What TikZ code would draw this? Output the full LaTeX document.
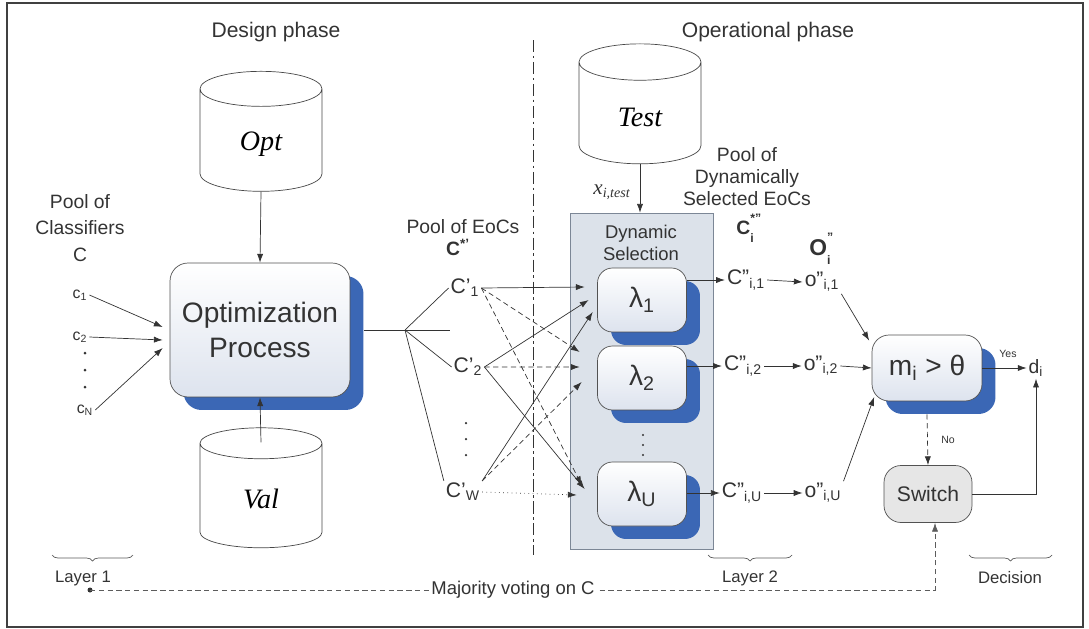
\documentclass[tikz,border=0pt]{standalone}
\usepackage{fontspec}
\setmainfont{Liberation Sans}
\newfontfamily\tnr{Liberation Serif}
\usetikzlibrary{shapes.geometric,shadows,arrows.meta,decorations.pathreplacing}

\definecolor{shblue}{HTML}{3B67B5}
\definecolor{boxfill}{HTML}{DDE3EE}
\definecolor{panelfill}{HTML}{DCE2EA}
\definecolor{panelline}{HTML}{7C8796}
\definecolor{linec}{HTML}{333333}
\definecolor{switchfill}{HTML}{E6E6E6}

\newcommand\supsub[2]{\rlap{\raisebox{0.62em}{\fontsize{7}{8}\selectfont#1}}\raisebox{-0.4em}{\fontsize{7}{8}\selectfont#2}}

\tikzset{
  arr/.style={draw=linec, -{Latex[length=5pt,width=3.5pt]}},
  dsh/.style={dash pattern=on 3pt off 2pt},
  procbox/.style={draw=linec!85, rounded corners=0.36cm, top color=white, bottom color=boxfill,
    drop shadow={shadow xshift=0.27cm, shadow yshift=-0.26cm, fill=shblue, opacity=1}},
  db/.style={cylinder, shape border rotate=90, aspect=0.65, draw=linec!90, fill=white,
    minimum width=2.44cm, minimum height=2.4cm, font=\tnr\itshape\fontsize{16}{18}\selectfont},
  hdr/.style={font=\fontsize{12}{14}\selectfont, text=linec, inner sep=1pt},
  lbl/.style={font=\fontsize{11}{13}\selectfont, text=linec, inner sep=1pt},
  cpl/.style={font=\fontsize{12}{14}\selectfont, text=linec, inner sep=1pt},
  mini/.style={font=\fontsize{6}{7}\selectfont, text=linec, inner sep=1pt},
  layer/.style={font=\fontsize{9.5}{11}\selectfont, text=linec, inner sep=1pt},
  brc/.style={draw=linec!80, decorate, decoration={brace, mirror, amplitude=0.12cm}}
}

\begin{document}
\begin{tikzpicture}[x=0.02cm, y=-0.02cm]
  \path[use as bounding box] (0,0) rectangle (1089,629);
  \draw[black!75, line width=0.8pt] (7,3) rectangle (1083,627);

  % phases
  \node[hdr] (design) at (276,32) {Design phase};
  \node[hdr] (oper) at (768,32) {Operational phase};
  \draw[linec, dash pattern=on 7pt off 2pt on 1.5pt off 2pt] (533,40) -- (533,555);

  % design phase
  \node[db] (opt) at (261,144) {Opt};
  \node[db] (val) at (261,499) {Val};
  \node[procbox, minimum width=3.6cm, minimum height=2.68cm, align=center,
        font=\fontsize{16}{19.5}\selectfont, text=linec] (optbox) at (260,330) {Optimization\\Process};
  \draw[arr] (opt.south) -- (optbox.north);
  \draw[arr] ([yshift=-0.3cm]val.north) -- (optbox.south);

  \node[lbl, align=center, font=\fontsize{11}{15}\selectfont] (poolc) at (80,228) {Pool of\\Classifiers\\C};
  \node[lbl, font=\fontsize{9}{11}\selectfont] (c1) at (80,295) {c\textsubscript{1}};
  \node[lbl, font=\fontsize{9}{11}\selectfont] (c2) at (80,337) {c\textsubscript{2}};
  \node[lbl, font=\fontsize{9}{11}\selectfont] (cn) at (85,410) {c\textsubscript{N}};
  \foreach \y in {353,370,387} \fill[linec] (85,\y) circle (0.03cm);
  \draw[arr] (c1.east) -- ([xshift=-0.14cm,yshift=0.06cm]optbox.west);
  \draw[arr] (c2.east) -- ([xshift=-0.14cm,yshift=-0.2cm]optbox.west);
  \draw[arr] (cn.east) -- ([xshift=-0.14cm,yshift=-0.36cm]optbox.west);

  % pool of EoCs
  \coordinate (fork) at (405,330);
  \coordinate (forkend) at (450,330);
  \draw[linec] ([xshift=0.27cm]optbox.east) -- (forkend);
  \node[lbl] (poole) at (463,227) {Pool of EoCs};
  \node[lbl, font=\bfseries\fontsize{11}{13}\selectfont] (cstar) at (458,247) {C\textsuperscript{*'}};
  \node[cpl] (cp1) at (465,288) {C'\textsubscript{1}};
  \node[cpl] (cp2) at (468,367) {C'\textsubscript{2}};
  \node[cpl] (cpw) at (463,492) {C'\textsubscript{W}};
  \foreach \y in {423,439,455} \fill[linec] (466,\y) circle (0.025cm);
  \draw[linec] (fork) -- (cp1.west);
  \draw[linec] (fork) -- (cp2.west);
  \draw[linec] (fork) -- (cpw.north west);

  % operational phase
  \node[db] (test) at (640,117) {Test};
  \node[draw=panelline, fill=panelfill, minimum width=2.86cm, minimum height=6.72cm] (panel) at (641.5,381) {};
  \draw[arr] (test.south) -- (test.south |- panel.north);
  \node[lbl, font=\tnr\itshape\fontsize{12}{14}\selectfont] (xtest) at (612,192) {x\textsubscript{i,test}};
  \node[lbl, align=center, font=\fontsize{10.5}{12.5}\selectfont] (dynsel) at (641,243) {Dynamic\\Selection};

  \node[procbox, minimum width=1.78cm, minimum height=1.28cm, rounded corners=0.3cm,
        font=\fontsize{16}{18}\selectfont, text=linec] (l1) at (642,300) {λ\textsubscript{1}};
  \node[procbox, minimum width=1.78cm, minimum height=1.28cm, rounded corners=0.3cm,
        font=\fontsize{16}{18}\selectfont, text=linec] (l2) at (642,378) {λ\textsubscript{2}};
  \node[procbox, minimum width=1.78cm, minimum height=1.28cm, rounded corners=0.3cm,
        font=\fontsize{16}{18}\selectfont, text=linec] (lu) at (642,494) {λ\textsubscript{U}};
  \foreach \y in {435,445,455} \fill[linec] (643,\y) circle (0.022cm);

  % EoCs to selection
  \draw[arr] (cp1.east) -- ([xshift=-0.25cm,yshift=0.26cm]l1.west);
  \draw[arr, dsh] (cp1.east) -- ([xshift=-0.35cm,yshift=0.52cm]l2.west);
  \draw[arr, dsh] (cp1.east) -- ([xshift=-0.31cm,yshift=0.18cm]lu.west);
  \draw[arr] (cp2.east) -- ([xshift=-0.17cm]l1.west);
  \draw[arr, dsh] (cp2.east) -- ([xshift=-0.35cm,yshift=0.22cm]l2.west);
  \draw[arr] (cp2.east) -- ([xshift=-0.25cm,yshift=0.1cm]lu.west);
  \draw[arr] (cpw.north east) -- ([xshift=-0.09cm,yshift=-0.24cm]l1.west);
  \draw[arr, dsh] (cpw.north east) -- ([xshift=-0.31cm,yshift=-0.08cm]l2.west);
  \draw[arr, dotted] (cpw.east) -- ([xshift=-0.41cm,yshift=-0.02cm]lu.west);

  % dynamically selected EoCs
  \node[lbl, align=center, font=\fontsize{11}{12.5}\selectfont] (poold) at (747,177) {Pool of\\Dynamically\\Selected EoCs};
  \node[lbl, font=\bfseries\fontsize{11}{13}\selectfont] (cstari) at (745,228) {C\supsub{*''}{i}};
  \node[lbl, font=\bfseries\fontsize{13}{15}\selectfont] (ooi) at (820,249) {O\supsub{''}{i}};

  \node[cpl] (cc1) at (746,280) {C''\textsubscript{i,1}};
  \node[cpl] (cc2) at (743,366) {C''\textsubscript{i,2}};
  \node[cpl] (ccu) at (742,493) {C''\textsubscript{i,U}};
  \node[cpl] (oo1) at (822,282) {o''\textsubscript{i,1}};
  \node[cpl] (oo2) at (821,366) {o''\textsubscript{i,2}};
  \node[cpl] (oou) at (823,493) {o''\textsubscript{i,U}};
  \draw[arr] (l1.east |- cc1.west) -- (cc1.west);
  \draw[arr] (l2.east |- cc2.west) -- (cc2.west);
  \draw[arr] (lu.east |- ccu.west) -- (ccu.west);
  \draw[arr] (cc1.east) -- (oo1.west);
  \draw[arr] (cc2.east) -- (oo2.west);
  \draw[arr] (ccu.east) -- (oou.west);

  % decision
  \node[procbox, minimum width=2.2cm, minimum height=1.32cm, rounded corners=0.34cm,
        font=\fontsize{16}{18}\selectfont, text=linec] (mbox) at (927,368) {m\textsubscript{i} > θ};
  \node[draw=linec!85, fill=switchfill, rounded corners=0.34cm, minimum width=1.76cm, minimum height=1.14cm,
        font=\fontsize{12}{14}\selectfont, text=linec] (switch) at (928,494) {Switch};
  \node[lbl] (di) at (1036,368) {d\textsubscript{i}};
  \draw[arr] (oo1.south east) -- ([xshift=-0.05cm,yshift=0.55cm]mbox.west);
  \draw[arr] (oo2.east) -- (mbox.west);
  \draw[arr] (oou.north east) -- ([xshift=0.05cm,yshift=-0.58cm]mbox.west);
  \draw[arr] (mbox.east) -- (di.west);
  \node[mini] (yes) at (1008,354) {Yes};
  \draw[arr, dsh] ([yshift=-0.26cm]mbox.south) -- (switch.north);
  \node[mini] (no) at (948,440) {No};
  \draw[arr] (switch.east) -| (di.south);

  % majority voting
  \coordinate (mvstart) at (90,590);
  \fill[linec] (mvstart) circle (0.05cm);
  \draw[arr, dsh, draw=linec!80] (mvstart) -| ([xshift=0.14cm]switch.south);
  \node[lbl, fill=white, font=\fontsize{10.5}{12}\selectfont] (mv) at (513,590) {Majority voting on C};

  % layers
  \draw[brc] (52,555) -- (133,555);
  \node[layer] (lay1) at (83,578) {Layer 1};
  \draw[brc] (708,555) -- (792,555);
  \node[layer] (lay2) at (750,578) {Layer 2};
  \draw[brc] (969,555) -- (1052,555);
  \node[layer] (dec) at (1010,578) {Decision};
\end{tikzpicture}
\end{document}
